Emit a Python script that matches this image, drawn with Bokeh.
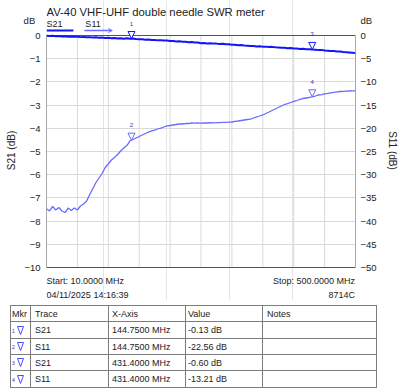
import numpy as np
from bokeh.plotting import figure
from bokeh.models import (Range1d, LinearAxis, FixedTicker, Label, Arrow, Div,
                          NormalHead, OpenHead, ColumnDataSource, LabelSet)
from bokeh.layouts import column
from bokeh.core.properties import value
from bokeh.embed import file_html
from bokeh.resources import INLINE

# ---------------- data ----------------
title_text = "AV-40 VHF-UHF double needle SWR meter"
freq_start = 10.0
freq_stop = 500.0
n_points = 101
timestamp = "04/11/2025 14:16:39"
instrument = "8714C"

s21_db = [-0.01, -0.02, -0.01, -0.03, -0.02, -0.04, -0.03, -0.05, -0.04, -0.05, -0.05,
          -0.07, -0.06, -0.08, -0.07, -0.09, -0.08, -0.10, -0.09, -0.11, -0.10,
          -0.12, -0.11, -0.13, -0.12, -0.14, -0.12, -0.14, -0.13, -0.15, -0.16,
          -0.16, -0.18, -0.17, -0.19, -0.19, -0.21, -0.20, -0.22, -0.22, -0.24,
          -0.24, -0.26, -0.25, -0.27, -0.27, -0.29, -0.28, -0.30, -0.30, -0.33,
          -0.32, -0.34, -0.33, -0.35, -0.35, -0.37, -0.36, -0.38, -0.38, -0.40,
          -0.40, -0.42, -0.41, -0.43, -0.44, -0.45, -0.45, -0.47, -0.46, -0.48,
          -0.48, -0.50, -0.49, -0.51, -0.52, -0.53, -0.53, -0.55, -0.54, -0.56,
          -0.56, -0.58, -0.57, -0.59, -0.59, -0.60, -0.61, -0.63, -0.62, -0.65,
          -0.66, -0.67, -0.67, -0.69, -0.69, -0.71, -0.72, -0.73, -0.74, -0.76]

s11_db = [-37.35, -37.82, -36.85, -37.61, -37.07, -37.82, -38.15, -37.18, -37.72, -37.18, -37.61,
          -36.75, -36.32, -35.67, -34.27, -32.97, -31.68, -30.71, -29.74, -28.45, -27.69,
          -26.83, -26.29, -25.65, -24.89, -24.25, -23.71, -22.74, -22.41, -22.09, -21.77,
          -21.44, -21.12, -20.80, -20.58, -20.37, -20.15, -19.94, -19.72, -19.50, -19.40,
          -19.29, -19.18, -19.07, -19.07, -18.97, -18.97, -18.86, -18.90, -18.84, -18.88,
          -18.82, -18.86, -18.80, -18.84, -18.78, -18.76, -18.72, -18.74, -18.68, -18.64,
          -18.53, -18.43, -18.32, -18.21, -18.10, -18.00, -17.78, -17.56, -17.35, -17.13,
          -16.81, -16.49, -16.16, -15.84, -15.52, -15.19, -14.87, -14.66, -14.44, -14.22,
          -14.01, -13.79, -13.58, -13.47, -13.36, -13.21, -13.04, -12.82, -12.72, -12.56,
          -12.46, -12.35, -12.24, -12.16, -12.07, -12.03, -11.98, -11.96, -11.94, -11.92]

s21_ticks = list(range(-10, 1, 1))
s11_ticks = list(range(-50, 1, 5))
x_divisions = 10

marker_ids = ["1", "2", "3", "4"]
marker_trace = ["S21", "S11", "S21", "S11"]
marker_freq = [144.75, 144.75, 431.4, 431.4]
marker_value = [-0.13, -22.56, -0.60, -13.21]

table_headers = ["Mkr", "Trace", "X-Axis", "Value", "Notes"]

# ---------------- style ----------------
FONT = "Liberation Sans"
C21 = "#1414f5"
C11 = "#6b6bff"
TXT = "#222222"
GRID = "#d9d9d9"
NB = "\u00a0"

freqs = np.linspace(freq_start, freq_stop, n_points)

# page pixels of the plot box: x 46..356, y 35 (0 dB) .. 267 (-10 dB)
FX0, FX1, FY0, FY1 = 46.0, 356.0, 35.0, 267.0
def dx(px):
    return freq_start + (px - FX0) / (FX1 - FX0) * (freq_stop - freq_start)
def dy(py):
    return -(py - FY0) / (FY1 - FY0) * 10.0

H1 = 300  # main figure height; its frame spans the whole height
p = figure(width=400, height=H1, x_range=Range1d(freq_start, freq_stop),
           y_range=Range1d(dy(H1), dy(0)), x_axis_location=None, y_axis_location="left",
           output_backend="svg", toolbar_location=None,
           min_border_left=46, min_border_right=44, min_border_top=0, min_border_bottom=0)
db_tick = 0.65
p.extra_y_ranges = {"s11": Range1d(dy(H1) * 5, dy(0) * 5)}
p.outline_line_color = None
p.background_fill_color = "white"
p.border_fill_color = "white"

p.yaxis.ticker = FixedTicker(ticks=s21_ticks + [db_tick])
p.ygrid.ticker = FixedTicker(ticks=s21_ticks)
p.ygrid.grid_line_color = GRID
p.yaxis.major_label_overrides = {db_tick: "dB" + NB * 2}
p.yaxis.axis_label = "S21 (dB)"
p.yaxis.axis_label_standoff = 4

ax2 = LinearAxis(y_range_name="s11", ticker=FixedTicker(ticks=s11_ticks + [db_tick * 5]),
                 axis_label="S11 (dB)", axis_label_standoff=7,
                 axis_label_orientation="vertical")
ax2.major_label_overrides = {db_tick * 5: "dB"}
p.add_layout(ax2, "right")
for ax in (p.yaxis[0], ax2):
    ax.major_tick_line_color = None
    ax.minor_tick_line_color = None
    ax.major_tick_out = 0
    ax.major_tick_in = 0
    ax.minor_tick_out = 0
    ax.minor_tick_in = 0
    ax.axis_line_color = None
    ax.major_label_text_font = FONT
    ax.major_label_text_font_size = "9.5px"
    ax.major_label_text_color = TXT
    ax.axis_label_text_font = FONT
    ax.axis_label_text_font_size = "10px"
    ax.axis_label_text_font_style = "normal"
    ax.axis_label_text_color = TXT
p.yaxis[0].major_label_standoff = 6
ax2.major_label_standoff = 5

# vertical grid and plot box
xt = list(np.linspace(freq_start, freq_stop, x_divisions + 1))
p.segment(x0=xt[1:-1], x1=xt[1:-1], y0=[s21_ticks[0]] * (len(xt) - 2),
          y1=[s21_ticks[-1]] * (len(xt) - 2), line_color=GRID, line_width=1)
p.quad(left=freq_start, right=freq_stop, bottom=s21_ticks[0], top=s21_ticks[-1],
       fill_color=None, line_color="#555555", line_width=1)

# traces
p.line(freqs, s21_db, line_color=C21, line_width=2)
p.line(freqs, s11_db, line_color=C11, line_width=1.3, y_range_name="s11")

# markers
for trace, rng, col in (("S21", "default", C21), ("S11", "s11", C11)):
    idx = [i for i, t in enumerate(marker_trace) if t == trace]
    xs = [marker_freq[i] for i in idx]
    ys = [marker_value[i] for i in idx]
    src = ColumnDataSource(dict(x=xs, y=ys, ys=[v + 1 for v in ys],
                                id=[marker_ids[i] for i in idx]))
    p.add_layout(Arrow(x_start="x", y_start="ys", x_end="x", y_end="y", source=src,
                       line_alpha=0, y_range_name=rng,
                       end=NormalHead(size=7, fill_color="white", line_color=col, line_width=1)))
    p.add_layout(LabelSet(x="x", y="y", text="id", source=src, y_range_name=rng,
                          y_offset=15, text_align="center", text_baseline="middle",
                          text_font=value(FONT), text_font_size=value("6px"),
                          text_color="#3333aa"))

def lab(px, py, text, size="9px", align="left"):
    p.add_layout(Label(x=dx(px), y=dy(py), text=text, text_font=FONT,
                       text_font_size=size, text_color=TXT, text_align=align,
                       text_baseline="middle"))

lab(46, 11, title_text, "11.3px")
lab(46, 23, "S21", "9px")
lab(85, 23, "S11", "9px")
lab(46, 280, "Start: %.4f MHz" % freq_start)
lab(355.5, 280, "Stop: %.4f MHz" % freq_stop, align="right")
lab(46, 294, timestamp)
lab(355.5, 294, instrument, align="right")

p.line([dx(46), dx(73)], [dy(30), dy(30)], line_color=C21, line_width=2)
p.add_layout(Arrow(x_start=dx(84), y_start=dy(30), x_end=dx(112), y_end=dy(30),
                   end=OpenHead(size=4, line_color=C11, line_width=1),
                   line_color=C11, line_width=1.3))

# ---------------- marker table (HTML) ----------------
col_w = [20, 78, 77, 77, 114]
row_h = [16, 17, 16, 16, 17]
cell = ("border:1px solid #7d7d7d;padding:0 0 0 {pad}px;white-space:nowrap;"
        "overflow:hidden;vertical-align:middle;text-align:left")
pads = [1, 4, 3, 2, 4]
tri = ('<svg width="7" height="9" style="vertical-align:middle">'
       '<polygon points="0.5,0.5 6.5,0.5 3.5,8.5" fill="white" stroke="#4a4aff" '
       'stroke-width="1"/></svg>')

rows_html = ['<tr style="height:%dpx">' % row_h[0] +
             "".join('<td style="%s">%s</td>' % (cell.format(pad=pads[j]), h)
                     for j, h in enumerate(table_headers)) + "</tr>"]
for i in range(len(marker_ids)):
    vals = ['<span style="font-size:5px;color:#3333aa;vertical-align:middle">%s</span>&nbsp;%s'
            % (marker_ids[i], tri),
            marker_trace[i], "%.4f MHz" % marker_freq[i], "%.2f dB" % marker_value[i], ""]
    rows_html.append('<tr style="height:%dpx">' % row_h[i + 1] +
                     "".join('<td style="%s">%s</td>' % (cell.format(pad=pads[j]), v)
                             for j, v in enumerate(vals)) + "</tr>")

table_html = ('<table style="border-collapse:collapse;table-layout:fixed;margin:5px 0 0 10px;'
              'width:%dpx;font-family:\'Liberation Sans\',Arial,sans-serif;font-size:9px;'
              'color:#222;line-height:10px">' % sum(col_w) +
              "<colgroup>" + "".join('<col style="width:%dpx">' % w for w in col_w) +
              "</colgroup>" + "".join(rows_html) + "</table>")

t = Div(text=table_html, width=400, height=390 - H1, margin=(0, 0, 0, 0))

layout = column(p, t, spacing=0)
open("out.html", "w").write(file_html(layout, INLINE))
